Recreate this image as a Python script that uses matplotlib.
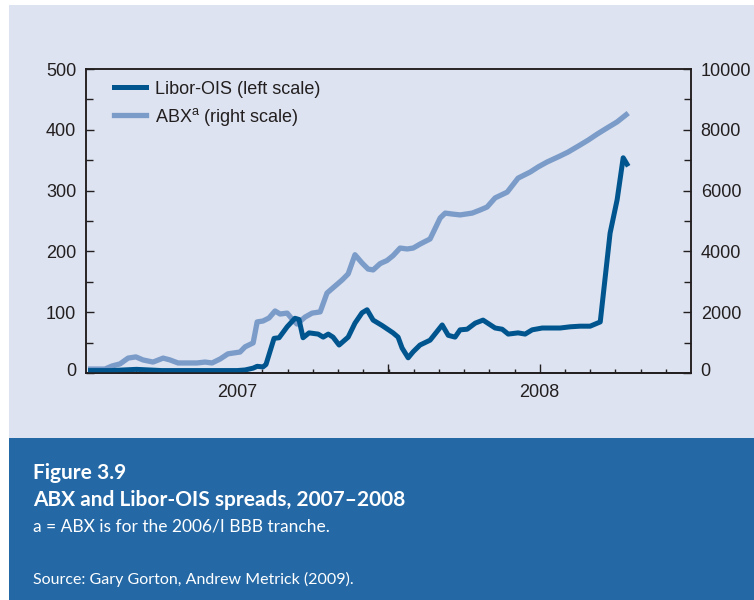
import matplotlib
matplotlib.use("Agg")
import matplotlib.pyplot as plt
from matplotlib.patches import Rectangle
from matplotlib.ticker import MultipleLocator
from matplotlib.lines import Line2D
from matplotlib.transforms import ScaledTranslation

plt.rcParams['font.family'] = ['Liberation Sans', 'DejaVu Sans']
plt.rcParams['mathtext.fontset'] = 'custom'
plt.rcParams['mathtext.rm'] = 'Liberation Sans'
plt.rcParams['mathtext.it'] = 'Liberation Sans'

# x values: months since January 2007
abx_months = [0.08, 0.75, 1.03, 1.35, 1.67, 1.98, 2.26, 2.66, 3.06, 3.33, 3.65, 4.05, 4.40, 4.72,
              5.00, 5.32, 5.63, 6.11, 6.31, 6.63, 6.79, 7.02, 7.26, 7.50, 7.70, 7.98, 8.21, 8.37,
              8.69, 8.97, 9.29, 9.56, 9.88, 10.16, 10.40, 10.67, 10.95, 11.19, 11.39, 11.67, 11.94,
              12.18, 12.46, 12.74, 12.98, 13.25, 13.65, 14.05, 14.25, 14.52, 14.84, 15.32, 15.63,
              15.91, 16.23, 16.71, 17.14, 17.62, 17.94, 18.29, 18.81, 19.13, 19.60, 19.92, 20.28,
              20.67, 21.07, 21.51]
abx_values = [130, 130, 230, 300, 490, 530, 430, 360, 490, 430, 330, 330, 330, 360,
              330, 460, 630, 690, 860, 990, 1680, 1710, 1810, 2040, 1940, 1970, 1740, 1610,
              1840, 1970, 2010, 2630, 2860, 3060, 3260, 3890, 3620, 3420, 3390, 3600, 3700,
              3860, 4110, 4080, 4110, 4240, 4410, 5100, 5260, 5230, 5200, 5260, 5360,
              5460, 5760, 5950, 6410, 6610, 6780, 6940, 7140, 7270, 7500, 7660, 7860,
              8060, 8260, 8550]

libor_months = [0.08, 1.0, 1.5, 2.0, 2.5, 3.0, 4.0, 5.0, 6.0, 6.31, 6.63, 6.79, 7.02, 7.14,
                7.46, 7.66, 7.98, 8.29, 8.45, 8.61, 8.85, 9.21, 9.41, 9.61, 9.80, 10.04, 10.40,
                10.67, 10.95, 11.15, 11.39, 11.75, 12.18, 12.38, 12.54, 12.78, 12.98, 13.25,
                13.65, 14.13, 14.37, 14.64, 14.84, 15.12, 15.44, 15.75, 16.23, 16.51, 16.75,
                17.14, 17.42, 17.70, 18.10, 18.49, 18.81, 19.21, 19.60, 20.00, 20.40, 20.79,
                21.07, 21.31, 21.51]
libor_values = [4, 4, 5, 6, 5, 4, 4, 4, 4, 5, 8, 11, 10, 14,
                57, 58, 76, 90, 88, 58, 66, 64, 59, 64, 59, 46, 59,
                82, 99, 104, 87, 78, 66, 59, 41, 25, 35, 46,
                54, 79, 62, 59, 71, 72, 82, 87, 74, 72, 64,
                66, 64, 71, 74, 74, 74, 76, 77, 77, 84, 230,
                285, 354, 340]

year_labels = ['2007', '2008']
year_label_pos = [6, 18]
long_tick_pos = [12, 18]

DARK = '#00558f'
LIGHT = '#7b9bc9'
TXT = '#231f20'
PANEL = '#dde3f0'
BLUE = '#2469a6'

fig = plt.figure(figsize=(7.54, 6.0), dpi=100)
fig.patch.set_facecolor('white')
fig.patches.append(Rectangle((9/754, 1-438/600), 1-9/754, 438/600-5/600,
                             transform=fig.transFigure, facecolor=PANEL, edgecolor='none', zorder=-10))
fig.patches.append(Rectangle((9/754, 0), 1-9/754, 1-438/600,
                             transform=fig.transFigure, facecolor=BLUE, edgecolor='none', zorder=-10))

ax = fig.add_axes([86/754, 1-373/600, (691-86)/754, (373-69)/600])
ax2 = ax.twinx()
ax.set_zorder(ax2.get_zorder()+1)
ax.patch.set_visible(False)
ax2.patch.set_facecolor('white')

ax2.plot(abx_months, abx_values, color=LIGHT, lw=3.8, solid_joinstyle='round', solid_capstyle='butt')
ax.plot(libor_months, libor_values, color=DARK, lw=3.6, solid_joinstyle='round', solid_capstyle='butt')

ax.set_xlim(0, 24)
ax.set_ylim(0, 500)
ax2.set_ylim(0, 10000)

ax.yaxis.set_major_locator(MultipleLocator(100))
ax.yaxis.set_minor_locator(MultipleLocator(50))
ax2.yaxis.set_major_locator(MultipleLocator(2000))
ax2.yaxis.set_minor_locator(MultipleLocator(1000))

ax.set_xticks(year_label_pos, year_labels)
ax.set_xticks(range(1, 24), minor=True)

for a in (ax, ax2):
    for s in a.spines.values():
        s.set_color(TXT)
        s.set_linewidth(1.1)
    a.tick_params(axis='both', which='both', direction='in', colors=TXT, labelsize=13, width=1.0)
    a.tick_params(axis='y', which='major', length=6, pad=7)
    a.tick_params(axis='y', which='minor', length=5)

ax.tick_params(axis='x', which='major', length=0, pad=8)
ax.tick_params(axis='x', which='minor', length=3)

sec = ax.secondary_xaxis('bottom')
sec.set_xticks(long_tick_pos, ['', ''])
sec.tick_params(direction='in', length=6.5, width=1.0, colors=TXT)
sec.spines['bottom'].set_color(TXT)
sec.spines['bottom'].set_linewidth(1.1)

# zero labels sit slightly above the bottom spine in the reference
fig.canvas.draw()
shift = ScaledTranslation(0, 4/100, fig.dpi_scale_trans)
for a in (ax, ax2):
    for tk in a.yaxis.get_major_ticks():
        if abs(tk.get_loc()) < 1e-9:
            for lab in (tk.label1, tk.label2):
                lab.set_transform(lab.get_transform() + shift)

handles = [Line2D([], [], color=DARK, lw=3.6), Line2D([], [], color=LIGHT, lw=3.8)]
labels = ['Libor-OIS (left scale)', 'ABX$^{\\mathrm{a}}$ (right scale)']
leg = ax.legend(handles, labels, loc='upper left', bbox_to_anchor=(0.047, 0.962), frameon=False,
                fontsize=13, handlelength=1.75, handletextpad=0.5, labelspacing=0.45,
                borderpad=0, borderaxespad=0)
for t in leg.get_texts():
    t.set_color(TXT)

cap_font = ['Lato', 'Liberation Sans', 'DejaVu Sans']
fig.text(33/754, 1-479/600, 'Figure 3.9', family=cap_font, weight='bold', fontsize=15,
         color='white', va='baseline', ha='left')
fig.text(33/754, 1-506/600, 'ABX and Libor-OIS spreads, 2007\u20132008', family=cap_font,
         weight='bold', fontsize=15, color='white', va='baseline', ha='left')
fig.text(33/754, 1-531/600, 'a = ABX is for the 2006/I BBB tranche.', family=cap_font,
         fontsize=12.5, color='white', va='baseline', ha='left')
fig.text(33/754, 1-584/600, 'Source: Gary Gorton, Andrew Metrick (2009).', family=cap_font,
         fontsize=11.5, color='white', va='baseline', ha='left')

fig.savefig('out.png', dpi=100, facecolor=fig.get_facecolor())
